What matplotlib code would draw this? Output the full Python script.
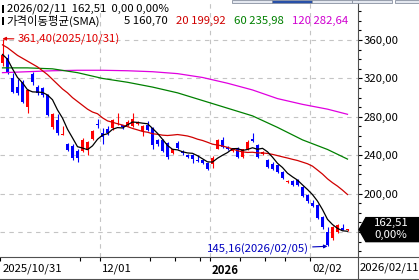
import numpy as np
import pandas as pd
import matplotlib
matplotlib.use('Agg')
import matplotlib.pyplot as plt
import matplotlib.transforms as mtransforms
from matplotlib.patches import Polygon, Rectangle
from matplotlib.lines import Line2D
from matplotlib.ticker import FuncFormatter, MultipleLocator

plt.rcParams['font.family'] = ['Noto Sans CJK KR', 'DejaVu Sans']

# daily candles, 2025/10/31 .. 2026/02/11 (70 sessions)
opens = [336, 341, 320, 311, 316, 290, 325, 311, 310, 303,
         269, 277, 261.5, 252, 250, 244, 244, 245, 257, 273,
         263, 267, 268, 273, 271, 271, 270, 273, 265, 272,
         268, 256, 256, 253, 242, 253, 243.5, 240, 240, 235,
         235, 232, 231, 247, 256, 249, 244, 248, 238, 246,
         257, 251, 241, 235, 231, 230, 223, 212, 213, 214,
         207, 199, 190, 188, 176, 160, 154, 160, 164, 162.0]
highs = [361.4, 345, 326, 319, 318, 309, 327, 313, 311, 304,
         284, 283, 270, 253, 252, 246, 258, 255, 266, 278,
         268, 270, 278, 284, 272, 277, 284, 276, 271, 276,
         269, 257, 257, 254, 247, 255, 245, 241, 241, 240,
         236, 233, 239, 257, 259, 250, 247, 249, 247, 256,
         263, 252, 244, 236, 233, 231, 224, 214, 214, 215,
         208, 200, 193, 189, 177, 165, 166, 168, 168, 163]
lows = [333, 325, 305, 303, 294, 284, 313, 303, 301, 281,
        267, 261, 261, 244, 235, 233, 243, 240, 256, 268,
        252, 261, 266, 272, 267, 270, 269, 271, 260, 265,
        247, 250, 243, 236, 241, 246, 240, 237, 232, 233,
        231, 225, 227, 246, 248, 245, 243, 237, 237, 245,
        254, 237, 240, 227, 225, 222, 215, 211, 208, 208,
        197, 190, 186, 174, 163, 145.16, 152, 159, 162, 161.5]
closes = [344, 327, 306, 305, 295, 308, 316, 305, 303, 282,
          283, 263, 262.5, 245, 237, 237, 256, 254, 265, 271,
          259, 263, 277, 274, 269, 275, 278, 275, 270, 266,
          251, 252, 244, 238, 246, 248, 242, 238, 236, 233.5,
          232, 226, 237, 256, 249, 246, 246, 238, 246, 254,
          255, 238, 243, 228, 226, 223, 216, 213.5, 209, 209,
          198, 192, 187, 175, 165, 147, 165, 167, 162.51, 162.51]

# moving averages: warm-up part (needs older data)
sma5_head = [345, 340, 330, 321]
sma20_head = [355, 352, 348, 344, 341, 338, 335, 332, 328, 324,
              319, 314, 309, 305, 300, 296, 292, 288, 285]
ma_idx = [0, 5, 10, 15, 20, 25, 30, 35, 40, 45, 50, 55, 60, 65, 69]
sma60 = [331, 331, 330, 326, 320, 316, 311, 305, 297, 289, 281, 269, 256, 246, 235.98]
sma120 = [326, 327, 328, 328.5, 328.5, 328, 327, 325, 321, 315, 308, 299, 293, 288, 282.64]

# header legend values as printed
ma_periods = [5, 20, 60, 120]
ma_last = [160.70, 199.92, 235.98, 282.64]
last_date = '2026/02/11'
last_price = 162.51
last_change = 0.00
last_pct = 0.00

date_ticks = [0, 20, 42, 62]
date_labels = ['2025/10/31', '12/01', '2026', '02/02']
week_ticks = [16, 30, 35, 40, 48, 53, 57]

UP = '#ff0000'
DOWN = '#0000ff'
FS = 8.2


def kr(v):
    return f'{v:.2f}'.replace('.', ',')


W, H = 419, 280
fig = plt.figure(figsize=(W / 100, H / 100), dpi=100)
ax = fig.add_axes([0, 23 / H, 358 / W, 257 / H])
ax.set_xlim(-0.5, 71.1)
ax.set_ylim(134, 401.7)

# grid
for v in range(160, 361, 40):
    ax.axhline(v, color='#c4c4c4', lw=0.8, ls=(0, (4, 4)), zorder=0)
for t in date_ticks[1:]:
    ax.axvline(t - 0.5, color='#c4c4c4', lw=0.8, ls=(0, (4, 4)), zorder=0)

# candles
x = np.arange(len(closes))
o = np.array(opens)
c = np.array(closes)
cols = [UP if cc >= oo else DOWN for oo, cc in zip(o, c)]
ax.vlines(x, lows, highs, colors=cols, lw=0.8, zorder=2)
body = np.maximum(np.abs(c - o), 0.9)
ax.bar(x, body, bottom=np.minimum(o, c), width=0.78, color=cols, lw=0, zorder=3)

# moving averages
s = pd.Series(closes)
ma5 = s.rolling(5).mean().to_numpy()
ma5[:len(sma5_head)] = sma5_head
ma20 = s.rolling(20).mean().to_numpy()
ma20[:len(sma20_head)] = sma20_head
ax.plot(ma_idx, sma120, color='#e000e0', lw=0.9, zorder=4)
ax.plot(ma_idx, sma60, color='#008000', lw=0.9, zorder=4)
ax.plot(x, ma20, color='#d00000', lw=0.9, zorder=4)
ax.plot(x, ma5, color='black', lw=0.9, zorder=4)

# high / low markers
ax.annotate(f'{kr(highs[0])}(2025/10/31)', xy=(0, highs[0]), xytext=(3.1, highs[0] - 0.8),
            color='#e00000', fontsize=FS, ha='left', va='center',
            arrowprops=dict(arrowstyle='-|>', color='#e00000', lw=0.8,
                            mutation_scale=5, shrinkA=1, shrinkB=0))
ax.annotate(f'{kr(lows[65])}(2026/02/05)', xy=(65, lows[65]), xytext=(61.2, lows[65] - 3),
            color='#0000c0', fontsize=FS, ha='right', va='center',
            arrowprops=dict(arrowstyle='-|>', color='#0000c0', lw=0.8,
                            mutation_scale=5, shrinkA=1, shrinkB=0))

# right price axis
ax.yaxis.tick_right()
ax.set_yticks(range(200, 361, 40))
ax.yaxis.set_minor_locator(MultipleLocator(10))
ax.yaxis.set_major_formatter(FuncFormatter(lambda v, p: kr(v)))
ax.tick_params(axis='y', which='major', length=3, width=0.8, pad=1, labelsize=FS)
ax.tick_params(axis='y', which='minor', length=2, width=0.8)

# date axis
ax.set_xticks([t - 0.5 if t else -0.45 for t in date_ticks])
ax.set_xticklabels(date_labels)
ax.set_xticks([t - 0.5 for t in week_ticks], minor=True)
ax.tick_params(axis='x', which='both', length=3, width=0.8, pad=2, labelsize=FS)
shift = mtransforms.ScaledTranslation(1.5 / 72, 0, fig.dpi_scale_trans)
for lbl in ax.get_xticklabels():
    lbl.set_ha('left')
    lbl.set_transform(lbl.get_transform() + shift)
ax.get_xticklabels()[2].set_fontweight('bold')

for side in ['left', 'top']:
    ax.spines[side].set_visible(False)
ax.spines['right'].set_color('#505050')
ax.spines['bottom'].set_color('#505050')

# last price tag
tr = mtransforms.blended_transform_factory(ax.transAxes, ax.transData)
tag = Polygon([(1.003, last_price), (1.022, last_price + 12.5), (1.2, last_price + 12.5),
               (1.2, last_price - 12.5), (1.022, last_price - 12.5)],
              closed=True, transform=tr, color='black', clip_on=False, zorder=6)
ax.add_patch(tag)
ax.text(1.092, last_price + 6.5, kr(last_price), transform=tr, color='white',
        fontsize=FS, ha='center', va='center', zorder=7, clip_on=False)
ax.text(1.092, last_price - 5.5, kr(last_pct) + '%', transform=tr, color='white',
        fontsize=FS, ha='center', va='center', zorder=7, clip_on=False)

# bottom frame and date box
fig.add_artist(Line2D([358 / W, 1], [23 / H, 23 / H], color='#505050', lw=0.8))
fig.add_artist(Line2D([358 / W, 358 / W], [0, 23 / H], color='#505050', lw=0.8))
fig.add_artist(Line2D([0, 1], [1.5 / H, 1.5 / H], color='#505050', lw=0.8))
fig.text(389 / W, 1 - 268 / H, last_date, fontsize=FS, ha='center', va='center')

# tab strip at top right
for x0, x1, fc in [(232, 272, '#e4e8f0'), (272, 312, '#2850a8'), (312, 352, '#e4e8f0'),
                   (352, 392, '#e4e8f0'), (395, 419, '#e4e8f0')]:
    fig.add_artist(Rectangle((x0 / W, 1 - 3 / H), (x1 - x0) / W, 3 / H,
                             facecolor=fc, edgecolor='#8890a0', lw=0.6))


# header legend
def px_text(xp, yp, s, color='black'):
    fig.text(xp / W, 1 - yp / H, s, color=color, fontsize=FS, ha='left', va='center')


for yp in (9, 21):
    fig.add_artist(Rectangle((2 / W, 1 - (yp + 4) / H), 2 / W, 8 / H,
                             facecolor='black', lw=0))
px_text(7, 9, f'{last_date}  {kr(last_price)}  {kr(last_change)} {kr(last_pct)}%')
px_text(6, 21, '가격이동평균(SMA)')
px_text(124, 21, f'{ma_periods[0]} {kr(ma_last[0])}')
px_text(176, 21, f'{ma_periods[1]} {kr(ma_last[1])}', '#d00000')
px_text(234, 21, f'{ma_periods[2]} {kr(ma_last[2])}', '#008000')
px_text(292, 21, f'{ma_periods[3]} {kr(ma_last[3])}', '#d000d0')

fig.savefig('out.png', dpi=100)
